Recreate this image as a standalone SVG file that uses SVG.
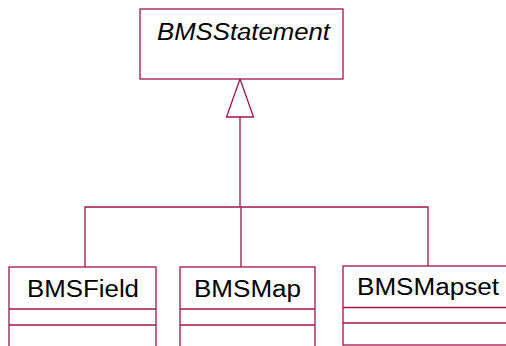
<svg xmlns="http://www.w3.org/2000/svg" width="506" height="346" viewBox="0 0 506 346">
<style>
.box{fill:#fff;stroke:#A0154A;stroke-width:1.3}
.ln{fill:none;stroke:#A0154A;stroke-width:1.3}
.t{font-family:"Liberation Sans",Arial,sans-serif;font-size:23px;fill:#000}
.i{font-style:italic}
</style>
<rect width="506" height="346" fill="#fff"/>
<g id="connectors">
<path class="ln" d="M240,117 V207 M85,267 V207 H428 V266 M241,207 V267"/>
<polygon class="box" points="240,79 226.5,117 253.5,117"/>
</g>
<g id="BMSStatement">
<rect class="box" x="140" y="9" width="203" height="70"/>
<text class="t i" x="157" y="40" textLength="173" lengthAdjust="spacingAndGlyphs">BMSStatement</text>
</g>
<g id="BMSField">
<rect class="box" x="9" y="267" width="147" height="90"/>
<line class="ln" x1="9" y1="309" x2="156" y2="309"/>
<line class="ln" x1="9" y1="325" x2="156" y2="325"/>
<text class="t" x="27" y="297" textLength="112" lengthAdjust="spacingAndGlyphs">BMSField</text>
</g>
<g id="BMSMap">
<rect class="box" x="180" y="267" width="135" height="90"/>
<line class="ln" x1="180" y1="309" x2="315" y2="309"/>
<line class="ln" x1="180" y1="325" x2="315" y2="325"/>
<text class="t" x="194" y="297" textLength="107" lengthAdjust="spacingAndGlyphs">BMSMap</text>
</g>
<g id="BMSMapset">
<rect class="box" x="343" y="266" width="170" height="79"/>
<line class="ln" x1="343" y1="307.5" x2="506" y2="307.5"/>
<line class="ln" x1="343" y1="323" x2="506" y2="323"/>
<text class="t" x="357" y="295" textLength="142" lengthAdjust="spacingAndGlyphs">BMSMapset</text>
</g>
</svg>
